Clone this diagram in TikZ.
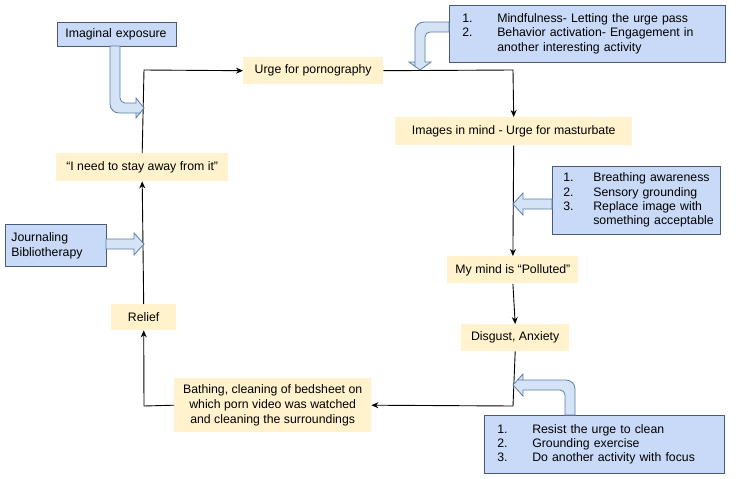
\documentclass[tikz,border=0pt]{standalone}
\usepackage{fontspec}
\setmainfont{Liberation Sans}
\usetikzlibrary{arrows.meta}
\definecolor{yel}{HTML}{FFF2CC}
\definecolor{blu}{HTML}{C9DAF8}
\definecolor{bline}{HTML}{4A5A78}
\definecolor{barr}{HTML}{D4E3F5}
\definecolor{barrl}{HTML}{5B7FA8}
\begin{document}
\begin{tikzpicture}[x=1pt,y=-1pt,font=\fontsize{12.3}{15}\selectfont,
  yb/.style={fill=yel,inner sep=0pt,align=center},
  bb/.style={fill=blu,draw=bline,line width=0.8pt,inner sep=0pt},
  ar/.style={-{Stealth[length=7pt,width=6pt]},line width=0.9pt},
  ba/.style={fill=barr,draw=barrl,line width=0.8pt}]
\useasboundingbox (0,0) rectangle (750,479);
\node[bb,minimum width=119,minimum height=24,anchor=north west,align=left,text width=103] (ie) at (57,22) {Imaginal exposure};
\node[bb,minimum width=276,minimum height=57,anchor=north west,align=left,text width=250] (b1) at (449,5) {\renewcommand\arraystretch{0.95}\begin{tabular}{@{}l@{\hspace{2em}}l@{}}1.&Mindfulness- Letting the urge pass\\2.&Behavior activation- Engagement in\\&another interesting activity\end{tabular}};
\node[yb,minimum width=140,minimum height=27,anchor=north west] (u) at (243,57) {Urge for pornography};
\node[yb,minimum width=237,minimum height=28,anchor=north west] (im) at (395,117) {Images in mind - Urge for masturbate};
\node[bb,minimum width=168,minimum height=68,anchor=north west,align=left,text width=146] (b2) at (552,166) {\renewcommand\arraystretch{0.95}\begin{tabular}{@{}l@{\hspace{1.6em}}l@{}}1.&Breathing awareness\\2.&Sensory grounding\\3.&Replace image with\\&something acceptable\end{tabular}};
\node[bb,minimum width=131,minimum height=27,anchor=north west,yb,draw=none] (mm) at (447,256) {My mind is “Polluted”};
\node[yb,minimum width=108,minimum height=27,anchor=north west] (dg) at (461,324) {Disgust, Anxiety};
\node[bb,minimum width=240,minimum height=58,anchor=north west,align=left,text width=214] (b3) at (484,415) {\renewcommand\arraystretch{0.95}\begin{tabular}{@{}l@{\hspace{2em}}l@{}}1.&Resist the urge to clean\\2.&Grounding exercise\\3.&Do another activity with focus\end{tabular}};
\node[yb,minimum width=197,minimum height=54,anchor=north west] (bt) at (174,378) {Bathing, cleaning of bedsheet on\\which porn video was watched\\and cleaning the surroundings};
\node[yb,minimum width=65,minimum height=26,anchor=north west] (rl) at (111,304) {Relief};
\node[yb,minimum width=172,minimum height=28,anchor=north west] (st) at (56,153) {“I need to stay away from it”};
\node[bb,minimum width=101,minimum height=42,anchor=north west,align=left,text width=89] (jb) at (5,224) {Journaling\\Bibliotherapy};
\coordinate (c1) at (144,70);
\coordinate (c2) at (513,70);
\coordinate (c3) at (513,406);
\coordinate (c4) at (144,406);
\draw[ar] (rl.north) -- (st.south);
\draw[ar] (st.north) -- (c1) -- (u.west);
\draw[ar] (u.east) -- (c2) -- (im.north);
\draw[ar] (im.south) -- (mm.north);
\draw[ar] (mm.south) -- (dg.north);
\draw[ar] (dg.south) -- (c3) -- (bt.east);
\draw[ar] (bt.west) -- (c4) -- (rl.south);
% block arrows
\draw[ba] (449,22) [rounded corners=9] -- (415,22) -- (415,58) [sharp corners] -- (415,62) -- (409,62) -- (420,70) -- (431,62) -- (425,62) -- (425,58) [rounded corners=5] -- (425,32) [sharp corners] -- (449,32) -- cycle;
\draw[ba] (110,46) [rounded corners=9] -- (110,113) -- (132,113) [sharp corners] -- (136,113) -- (136,118) -- (144,108) -- (136,98) -- (136,103) -- (132,103) [rounded corners=5] -- (120,103) [sharp corners] -- (120,46) -- cycle;
\draw[ba] (106,239) -- (134,239) -- (134,233) -- (144,244) -- (134,255) -- (134,249) -- (106,249) -- cycle;
\draw[ba] (552,199) -- (523,199) -- (523,193) -- (513,204) -- (523,215) -- (523,209) -- (552,209) -- cycle;
\draw[ba] (575,415) [rounded corners=9] -- (575,380) -- (527,380) [sharp corners] -- (523,380) -- (523,374) -- (513,385) -- (523,396) -- (523,390) -- (527,390) [rounded corners=5] -- (565,390) [sharp corners] -- (565,415) -- cycle;
\end{tikzpicture}
\end{document}
